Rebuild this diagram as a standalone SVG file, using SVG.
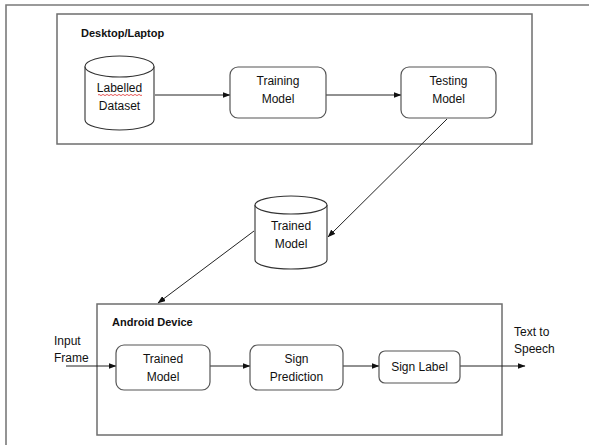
<svg xmlns="http://www.w3.org/2000/svg" width="590" height="445" viewBox="0 0 590 445">
<style>
.frame{fill:none;stroke:#7a7a7a;stroke-width:1.6}
.cont{fill:none;stroke:#6e6e6e;stroke-width:1.5}
.box{fill:#fff;stroke:#555;stroke-width:1.2}
.cyl{fill:#fff;stroke:#333;stroke-width:1.1}
.t{font-family:"Liberation Sans",Arial,sans-serif;font-size:12px;fill:#111;text-anchor:middle}
.tl{font-family:"Liberation Sans",Arial,sans-serif;font-size:12px;fill:#111}
.b{font-family:"Liberation Sans",Arial,sans-serif;font-size:11px;font-weight:bold;fill:#111}
.c{fill:none;stroke:#222;stroke-width:1}
</style>
<defs>
<marker id="ah" markerWidth="8" markerHeight="6" refX="7.5" refY="3" orient="auto" markerUnits="userSpaceOnUse">
<path d="M0,0 L8,3 L0,6 Z" fill="#111"/>
</marker>
</defs>
<rect width="590" height="445" fill="#fff"/>
<g id="frame">
<path class="frame" d="M6,445 V5 H589"/>
</g>
<g id="desktop">
<rect class="cont" x="57" y="14" width="475" height="130"/>
<text class="b" x="81" y="37">Desktop/Laptop</text>
</g>
<g id="android">
<rect class="cont" x="97" y="304" width="405" height="131"/>
<text class="b" x="112" y="326">Android Device</text>
</g>
<g id="connectors">
<line class="c" x1="155" y1="95" x2="230" y2="95" marker-end="url(#ah)"/>
<line class="c" x1="326" y1="95" x2="401" y2="95" marker-end="url(#ah)"/>
<line class="c" x1="447" y1="119" x2="328" y2="237" marker-end="url(#ah)"/>
<line class="c" x1="254" y1="231" x2="158" y2="303" marker-end="url(#ah)"/>
<line class="c" x1="66" y1="366" x2="116" y2="366" marker-end="url(#ah)"/>
<line class="c" x1="210" y1="366" x2="250" y2="366" marker-end="url(#ah)"/>
<line class="c" x1="343" y1="366" x2="379" y2="366" marker-end="url(#ah)"/>
<line class="c" x1="460" y1="366" x2="525" y2="366" marker-end="url(#ah)"/>
</g>
<g id="labelled-dataset">
<path class="cyl" d="M85,66.5 V120 A34.5,10 0 0 0 154,120 V66.5"/>
<ellipse class="cyl" cx="119.5" cy="66.5" rx="34.5" ry="10.5"/>
<text class="t" x="119.5" y="92">Labelled</text>
<path d="M98,95 q1,-1.2 2,0 t2,0 t2,0 t2,0 t2,0 t2,0 t2,0 t2,0 t2,0 t2,0 t2,0 t2,0 t2,0 t2,0 t2,0 t2,0 t2,0 t2,0 t2,0 t2,0 t2,0 t2,0" fill="none" stroke="#e03030" stroke-width="0.8"/>
<text class="t" x="119.5" y="110">Dataset</text>
</g>
<g id="training-model">
<rect class="box" x="230" y="67" width="96" height="51" rx="8"/>
<text class="t" x="278" y="85">Training</text>
<text class="t" x="278" y="103">Model</text>
</g>
<g id="testing-model">
<rect class="box" x="401" y="67" width="95" height="51" rx="8"/>
<text class="t" x="448.5" y="85">Testing</text>
<text class="t" x="448.5" y="103">Model</text>
</g>
<g id="trained-model-store">
<path class="cyl" d="M255,205 V260 A36,9 0 0 0 327,260 V205"/>
<ellipse class="cyl" cx="291" cy="205" rx="36" ry="9"/>
<text class="t" x="291" y="230">Trained</text>
<text class="t" x="291" y="248">Model</text>
</g>
<g id="input-frame">
<text class="tl" x="54" y="345">Input</text>
<text class="tl" x="54" y="362">Frame</text>
</g>
<g id="trained-model">
<rect class="box" x="116" y="345" width="94" height="45" rx="8"/>
<text class="t" x="163" y="363">Trained</text>
<text class="t" x="163" y="381">Model</text>
</g>
<g id="sign-prediction">
<rect class="box" x="250" y="345" width="93" height="45" rx="8"/>
<text class="t" x="296.5" y="363">Sign</text>
<text class="t" x="296.5" y="381">Prediction</text>
</g>
<g id="sign-label">
<rect class="box" x="379" y="351" width="81" height="32" rx="6"/>
<text class="t" x="419.5" y="371">Sign Label</text>
</g>
<g id="text-to-speech">
<text class="tl" x="514" y="336">Text to</text>
<text class="tl" x="514" y="353">Speech</text>
</g>
</svg>
